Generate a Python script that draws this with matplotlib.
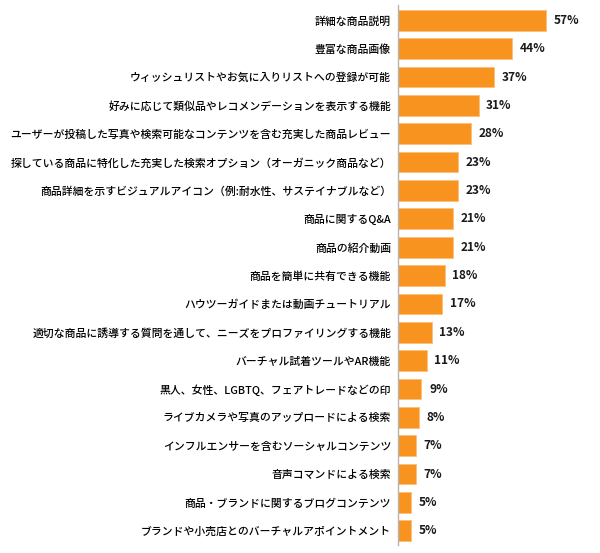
import matplotlib
matplotlib.use("Agg")
import matplotlib.pyplot as plt

plt.rcParams['font.family'] = ['Noto Sans CJK JP', 'DejaVu Sans']

# feature labels, top to bottom
LABELS = [
    "詳細な商品説明",
    "豊富な商品画像",
    "ウィッシュリストやお気に入りリストへの登録が可能",
    "好みに応じて類似品やレコメンデーションを表示する機能",
    "ユーザーが投稿した写真や検索可能なコンテンツを含む充実した商品レビュー",
    "探している商品に特化した充実した検索オプション（オーガニック商品など）",
    "商品詳細を示すビジュアルアイコン（例:耐水性、サステイナブルなど）",
    "商品に関するQ&A",
    "商品の紹介動画",
    "商品を簡単に共有できる機能",
    "ハウツーガイドまたは動画チュートリアル",
    "適切な商品に誘導する質問を通して、ニーズをプロファイリングする機能",
    "バーチャル試着ツールやAR機能",
    "黒人、女性、LGBTQ、フェアトレードなどの印",
    "ライブカメラや写真のアップロードによる検索",
    "インフルエンサーを含むソーシャルコンテンツ",
    "音声コマンドによる検索",
    "商品・ブランドに関するブログコンテンツ",
    "ブランドや小売店とのバーチャルアポイントメント",
]
VALUES = [57, 44, 37, 31, 28, 23, 23, 21, 21, 18, 17, 13, 11, 9, 8, 7, 7, 5, 5]

BAR_COLOR = "#F7931E"

fig = plt.figure(figsize=(6.0, 5.53), dpi=100)
ax = fig.add_axes([398 / 600, 8 / 553, 202 / 600, 540 / 553])

pos = list(range(len(VALUES)))
ax.barh(pos, VALUES, height=0.73, color=BAR_COLOR,
        edgecolor="#FBC078", linewidth=0.6)

for y, v in zip(pos, VALUES):
    ax.annotate(f"{v}%", xy=(v, y), xytext=(5.5, 0), textcoords="offset points",
                ha="left", va="center", fontsize=8.6, fontweight="bold",
                color="#1a1a1a")

ax.set_xlim(0, 77.7)
ax.set_ylim(len(VALUES) - 0.5, -0.54)

ax.set_yticks(pos)
ax.set_yticklabels(LABELS, fontsize=7.8, color="#000000", fontweight="medium")
ax.tick_params(axis="y", length=0, pad=5)
ax.set_xticks([])

for side in ["top", "right", "bottom"]:
    ax.spines[side].set_visible(False)
ax.spines["left"].set_color("#B5B5B5")
ax.spines["left"].set_linewidth(1.0)

fig.savefig("out.png", dpi=100)
